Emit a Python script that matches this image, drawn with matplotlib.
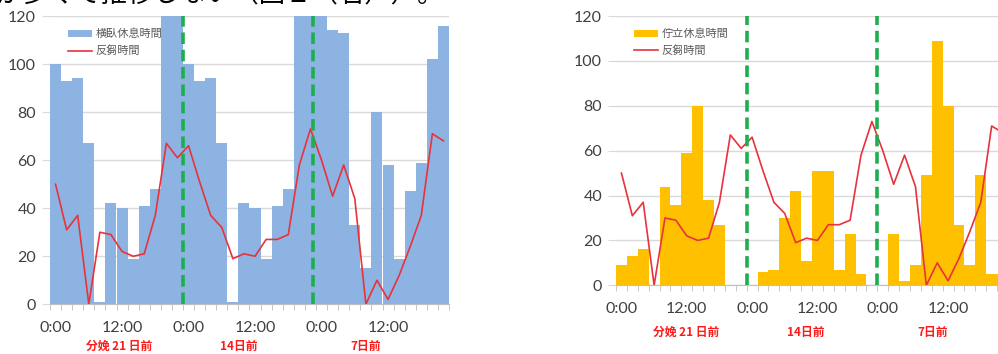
import matplotlib
matplotlib.use("Agg")
import matplotlib.pyplot as plt
import numpy as np

plt.rcParams['font.family'] = ['Noto Sans CJK JP', 'DejaVu Sans']

# 2時間ごとのカテゴリ (3日間 x 12)
n_cat = 36
tick_pos = [0, 6, 12, 18, 24, 30]
tick_labels = ["0:00", "12:00", "0:00", "12:00", "0:00", "12:00"]

# 横臥休息時間 (左)
lying = [100, 93, 94, 67, 1, 42, 40, 19, 41, 48, 125, 125,
         100, 93, 94, 67, 1, 42, 40, 19, 41, 48, 125, 125,
         125, 114, 113, 33, 15, 80, 58, 19, 47, 59, 102, 116]

# 佇立休息時間 (右)
standing = [9, 13, 16, 0, 44, 36, 59, 80, 38, 27, 0, 0,
            0, 6, 7, 30, 42, 11, 51, 51, 7, 23, 5, 0,
            0, 23, 2, 9, 49, 109, 80, 27, 9, 49, 5, 5]

# 反芻時間 (共通)
rumination = [50, 31, 37, 0, 30, 29, 22, 20, 21, 37, 67, 61,
              66, 51, 37, 32, 19, 21, 20, 27, 27, 29, 58, 73,
              60, 45, 58, 44, 0, 10, 2, 12, 24, 37, 71, 68]

day_labels = ["分娩 21 日前", "14日前", "7日前"]

fig = plt.figure(figsize=(9.98, 3.54), dpi=100)

# 上部の切れた本文 (元画像でも上半分が切れている)
fig.text(-0.005, 0.993, "が多くて推移しない（図２（右））。", fontsize=19,
         color="black", ha="left", va="baseline")


def draw_panel(ax, values, color, bar_label, vlines, label_y, day_x):
    x = np.arange(n_cat)
    bars = ax.bar(x, values, width=1.0, color=color, linewidth=0, zorder=2)
    line, = ax.plot(x, rumination, color="#e8323c", linewidth=1.2, zorder=3)
    for v in vlines:
        ax.axvline(v, color="#1fae4f", linewidth=2.6, linestyle=(0, (3.2, 1.6)), zorder=4)
    ax.set_xlim(-0.5, n_cat - 0.5)
    ax.set_ylim(0, 120)
    ax.set_yticks(range(0, 121, 20))
    ax.yaxis.grid(True, color="#d9d9d9", linewidth=1.0, zorder=0)
    ax.set_axisbelow(True)
    for s in ["top", "right", "left"]:
        ax.spines[s].set_visible(False)
    ax.spines["bottom"].set_color("#bfbfbf")
    ax.set_xticks(tick_pos)
    ax.set_xticklabels(tick_labels, family=["Lato", "DejaVu Sans"])
    ax.set_xticks(np.arange(-0.5, n_cat, 1.0), minor=True)
    ax.tick_params(axis="x", which="major", length=0, pad=12, labelsize=11.5, colors="#404040")
    ax.tick_params(axis="x", which="minor", length=4, color="#bfbfbf", direction="out")
    ax.tick_params(axis="y", length=6, color="#d9d9d9", labelsize=11.5, colors="#404040", pad=4)
    for lab in ax.get_yticklabels():
        lab.set_family(["Lato", "DejaVu Sans"])
    ax.legend([bars, line], [bar_label, "反芻時間"], loc="upper left",
              bbox_to_anchor=(0.02, 0.99), frameon=False,
              fontsize=8, handlelength=2.2, handleheight=0.6,
              handletextpad=0.3, labelspacing=0.55, labelcolor="#595959")
    for i, t in enumerate(day_labels):
        ax.text(day_x[i], label_y, t, transform=ax.get_xaxis_transform(),
                ha="center", va="center", color="#ff1a1a", fontsize=8.5,
                fontweight="bold", clip_on=False)


ax1 = fig.add_axes([50 / 998, 49.7 / 354, 399 / 998, 288.3 / 354])
draw_panel(ax1, lying, "#8db3e2", "横臥休息時間", [11.5, 23.25], -0.147,
           [5.7, 16.5, 28.0])

ax2 = fig.add_axes([616 / 998, 68.7 / 354, 392 / 998, 269.3 / 354])
draw_panel(ax2, standing, "#ffc000", "佇立休息時間", [11.5, 23.5], -0.175,
           [5.9, 16.9, 28.6])

fig.savefig("out.png", dpi=100)
